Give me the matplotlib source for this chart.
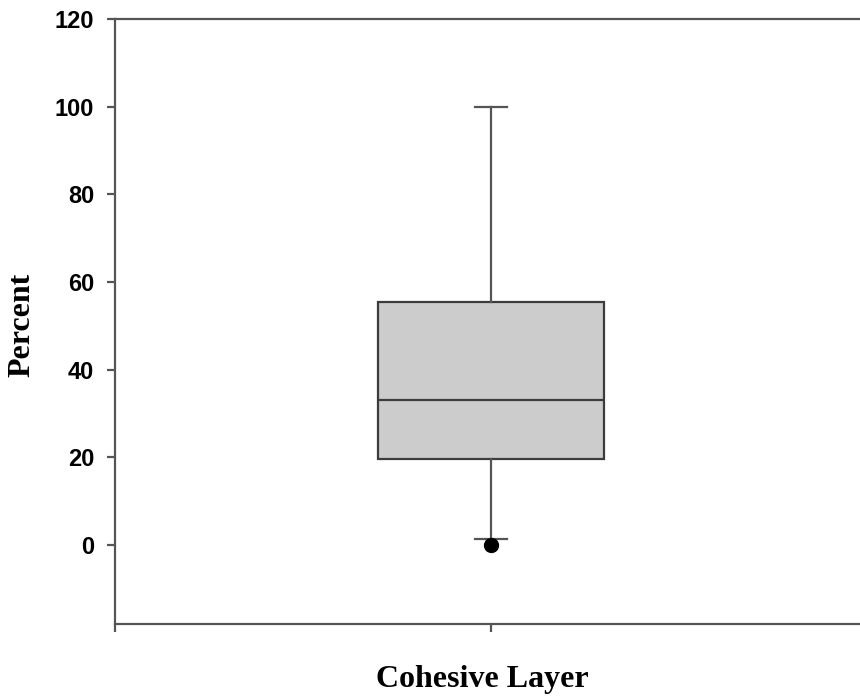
import matplotlib
matplotlib.use("Agg")
import matplotlib.pyplot as plt

# box statistics
label = "Cohesive Layer"
q1 = 19.6
median = 33.2
q3 = 55.5
whislo = 1.5
whishi = 100
fliers = [0]

yticks = [0, 20, 40, 60, 80, 100, 120]

fig = plt.figure(figsize=(8.6, 7), dpi=100)
ax = fig.add_axes([115/860, 1-624/700, 752/860, (624-19)/700])

stats = [{"med": median, "q1": q1, "q3": q3, "whislo": whislo,
          "whishi": whishi, "fliers": fliers, "label": ""}]
ax.bxp(stats, positions=[1], widths=0.6, capwidths=0.085, patch_artist=True,
       boxprops=dict(facecolor="#cccccc", edgecolor="#3c3c3c", linewidth=1.6),
       medianprops=dict(color="#3c3c3c", linewidth=1.6),
       whiskerprops=dict(color="#555555", linewidth=1.6),
       capprops=dict(color="#555555", linewidth=1.6),
       flierprops=dict(marker="o", markersize=10, markerfacecolor="black",
                       markeredgecolor="black"))

ax.set_xlim(0, 2)
ax.set_ylim(-18, 120)
ax.set_xticks([0, 1])
ax.set_xticklabels(["", ""])
ax.set_yticks(yticks)
ax.set_yticklabels([str(t) for t in yticks], fontfamily="Liberation Sans",
                   fontweight="bold", fontsize=17)
ax.tick_params(axis="both", direction="out", length=6, width=1.6,
               color="#555555", pad=9)
for s in ax.spines.values():
    s.set_color("#555555")
    s.set_linewidth(1.6)

fig.text(22/860, 1-325/700, "Percent", rotation=90, ha="center", va="center",
         fontfamily="Liberation Serif", fontweight="bold", fontsize=23)
fig.text(482/860, 1-680/700, label, ha="center", va="center",
         fontfamily="Liberation Serif", fontweight="bold", fontsize=23)

fig.savefig("out.png", dpi=100)
